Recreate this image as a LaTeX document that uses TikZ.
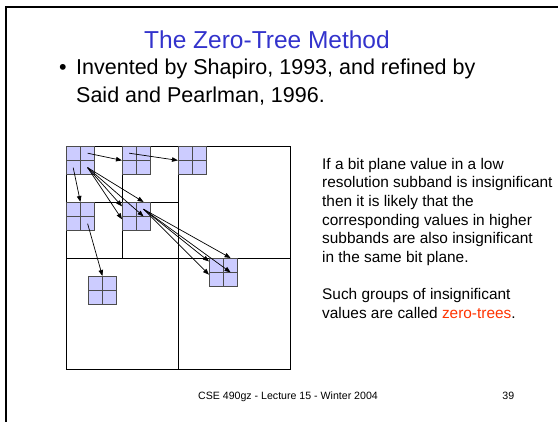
\documentclass[tikz,border=0pt]{standalone}
\usepackage{fontspec}
\setmainfont{Liberation Sans}
\usetikzlibrary{arrows.meta,calc}

\definecolor{titleblue}{RGB}{51,51,204}
\definecolor{treered}{RGB}{255,51,0}
\definecolor{cellfill}{RGB}{204,204,255}

\tikzset{
  band/.style={line width=0.8pt},
  zblock/.style={draw=black!70, fill=cellfill, line width=0.8pt, minimum size=28pt,
    inner sep=0pt, anchor=north west,
    path picture={\draw[black!70, line width=0.8pt]
      (path picture bounding box.north) -- (path picture bounding box.south)
      (path picture bounding box.west) -- (path picture bounding box.east);}},
  zarrow/.style={-{Triangle[length=6pt,width=4.5pt]}, line width=0.7pt},
}

\begin{document}
\begin{tikzpicture}[x=1pt, y=-1pt, every node/.style={inner sep=0pt}]
\useasboundingbox (0,0) rectangle (558,422);
\draw[line width=2.5pt] (6.2,422) -- (6.2,7) -- (558,7);

\node[anchor=base, text=titleblue, font=\fontsize{24.5}{30}\selectfont] (title) at (267,49) {The Zero-Tree Method};
\node[anchor=base, font=\fontsize{21.5}{28.5}\selectfont] (dot) at (63,74.5) {•};
% base of a two-line node is the last line
\node[anchor=base west, align=left, font=\fontsize{21.5}{28.5}\selectfont] (bullet) at (76,103)
  {Invented by Shapiro, 1993, and refined by\\Said and Pearlman, 1996.};

% subbands
\draw[band] (66,146) rectangle (290,369);
\draw[band] (178,146) -- (178,369);
\draw[band] (66,258) -- (290,258);
\draw[band] (122,146) -- (122,258);
\draw[band] (66,202) -- (178,202);

% 2x2 blocks
\node[zblock] (b0) at (66,146) {};
\node[zblock] (b1) at (122,146) {};
\node[zblock] (b2) at (178,146) {};
\node[zblock] (b3) at (66,202) {};
\node[zblock] (b4) at (122,202) {};
\node[zblock] (b5) at (88,276) {};
\node[zblock] (b6) at (209,258) {};

\draw[zarrow] ($(b0.north east)!.5!(b0.center)$) -- (b1.west);
\draw[zarrow] ($(b1.north west)!.5!(b1.center)$) -- (b2.west);
\draw[zarrow] ($(b0.south west)!.5!(b0.center)$) -- (b3.north);
\draw[zarrow] ($(b3.south east)!.5!(b3.center)$) -- (b5.north);

\coordinate (s0) at ($(b0.south east)!.5!(b0.center)$);
\draw[zarrow] (s0) -- ($(b4.north west)!.15!(b4.south west)$);
\draw[zarrow] (s0) -- ($(b4.north west)!.6!(b4.south west)$);
\draw[zarrow] (s0) -- ($(b4.north)!.5!(b4.north east)$);
\draw[zarrow] (s0) -- ($(b4.center)!.5!(b4.east)$);

\coordinate (s4) at ($(b4.north east)!.5!(b4.center)$);
\draw[zarrow] (s4) -- ($(b6.north west)!.12!(b6.south west)$);
\draw[zarrow] (s4) -- ($(b6.north west)!.58!(b6.south west)$);
\draw[zarrow] (s4) -- ($(b6.north)!.5!(b6.north east)$);
\draw[zarrow] (s4) -- ($(b6.center)!.5!(b6.east)$);

\node[anchor=base west, align=left, font=\fontsize{15.4}{18.65}\selectfont] (note) at (322,318.5)
  {If a bit plane value in a low\\resolution subband is insignificant\\then it is likely that the\\
   corresponding values in higher\\subbands are also insignificant\\in the same bit plane.\\[18.65pt]
   Such groups of insignificant\\values are called \textcolor{treered}{zero-trees}.};

\node[anchor=base, font=\fontsize{10.6}{13}\selectfont] (footer) at (288,399.3) {CSE 490gz - Lecture 15 - Winter 2004};
\node[anchor=base, font=\fontsize{10.6}{13}\selectfont] (page) at (508.3,399.3) {39};
\end{tikzpicture}
\end{document}
